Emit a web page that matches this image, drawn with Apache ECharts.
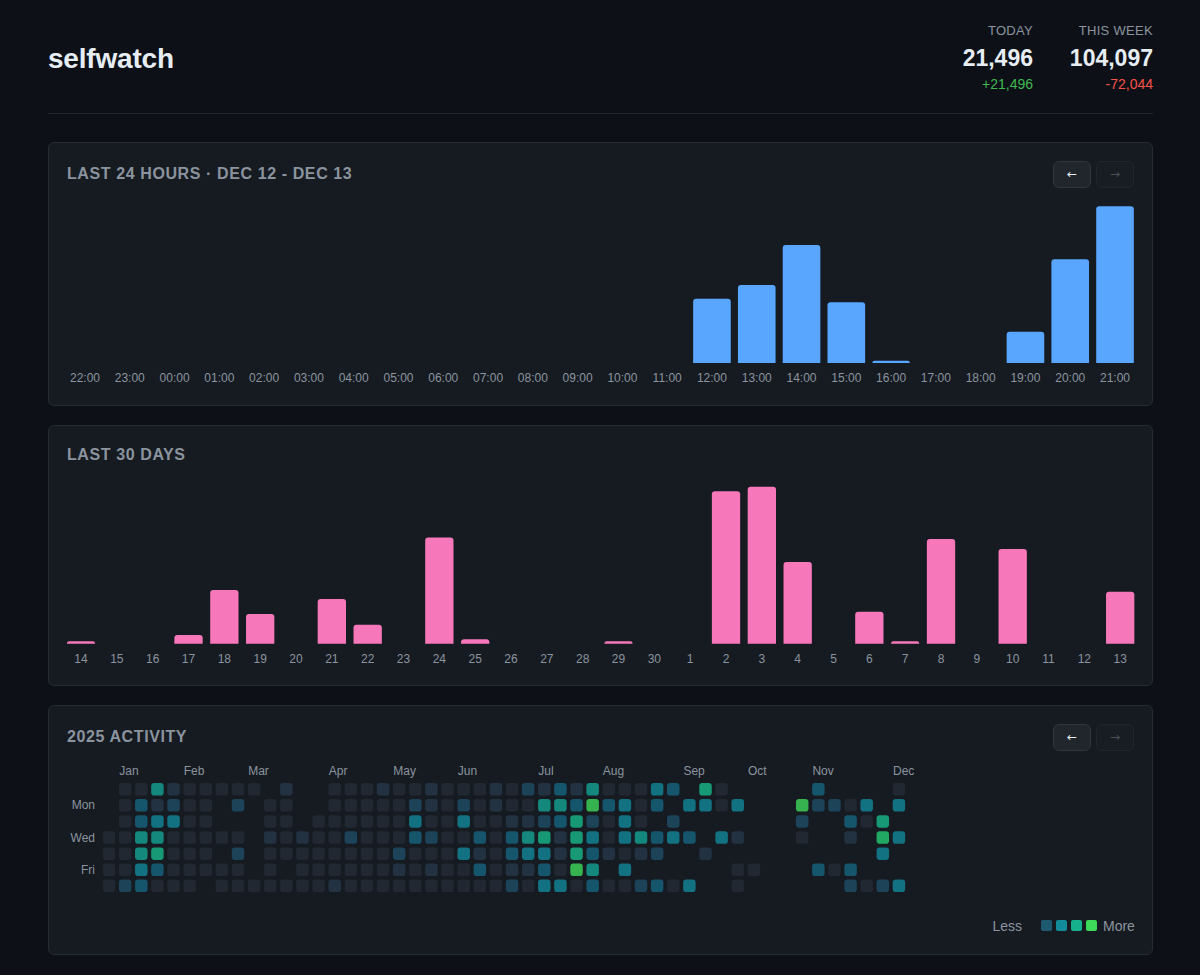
<!DOCTYPE html>
<html>
<head>
<meta charset="utf-8">
<script src="https://cdn.jsdelivr.net/npm/echarts@6/dist/echarts.min.js"></script>
<style>
html,body{margin:0;padding:0;background:#0d1117;width:1200px;height:975px;overflow:hidden;font-family:"Liberation Sans",Arial,Helvetica,sans-serif;}
.abs{position:absolute;white-space:nowrap;}
.card{position:absolute;left:48px;width:1103px;background:#161b22;border:1px solid #262c34;border-radius:6px;}
.title{position:absolute;left:67px;height:20px;line-height:20px;font-size:16px;font-weight:bold;color:#8b949e;letter-spacing:0.6px;white-space:nowrap;}
.btn{position:absolute;width:36px;height:25px;border-radius:6px;font-size:12px;text-align:center;line-height:25px;font-family:"DejaVu Sans",sans-serif;}
.btn.on{left:1053px;background:#21262d;border:1px solid #30363d;color:#e6edf3;}
.btn.off{left:1096px;background:#181d24;border:1px solid #21262d;color:#484f58;}
.chart{position:absolute;left:48px;width:1105px;}
.lbl{font-size:13px;color:#8b949e;letter-spacing:0.3px;height:16px;line-height:16px;}
.val{font-size:23px;font-weight:bold;color:#e6edf3;height:28px;line-height:28px;}
.dlt{font-size:14px;height:18px;line-height:18px;}
.sq{position:absolute;top:920px;width:11px;height:11px;border-radius:2px;}
</style>
</head>
<body>
<script>
// ---------- DATA ----------
const hourLabels = ['22:00','23:00','00:00','01:00','02:00','03:00','04:00','05:00','06:00','07:00','08:00','09:00','10:00','11:00','12:00','13:00','14:00','15:00','16:00','17:00','18:00','19:00','20:00','21:00'];
const hourValues = [0,0,0,0,0,0,0,0,0,0,0,0,0,0,2247,2726,4124,2121,80,0,0,1094,3624,5480];

const dayLabels = ['14','15','16','17','18','19','20','21','22','23','24','25','26','27','28','29','30','1','2','3','4','5','6','7','8','9','10','11','12','13'];
const dayValues = [1000,0,0,3630,22270,12260,0,18510,7800,0,43950,1830,0,0,0,1000,0,0,63130,65011,33780,0,13220,1000,43400,0,39201,0,0,21496];

const weekdayLabels = ['Sun','Mon','Tue','Wed','Thu','Fri','Sat'];
const monthLabels = ['Jan','Feb','Mar','Apr','May','Jun','Jul','Aug','Sep','Oct','Nov','Dec'];
// activity level per day, one string per weekday row (Sun..Sat), one char per week column of 2025
// '.' = no data, '0'..'8' = intensity level
const activityRows = [
  '.005100000.1..0001001000102131500043.60.....3....0',
  '.031200.2.00..000002102010055383403.4404...82204.4',
  '.034400...00.000000400400112362040.2.......2..306.',
  '005500000.101002000320030356164045343.41...0..1.74',
  '0056000.2.0000000020004103441631012..1..........4.',
  '004300000.0.0000001010030113085.4......00...303...',
  '023000.000000010000000000204403002304..0......2024'
];
const activityYear = 2025;
</script>

<div class="abs" style="left:48px;top:42px;height:34px;line-height:34px;font-size:28px;font-weight:bold;color:#e6edf3;letter-spacing:-0.2px;">selfwatch</div>

<div class="abs lbl" style="right:167px;top:23px;">TODAY</div>
<div class="abs val" id="todayVal" style="right:167px;top:44px;"></div>
<div class="abs dlt" id="todayDelta" style="right:167px;top:75px;"></div>
<div class="abs lbl" style="right:47px;top:23px;">THIS WEEK</div>
<div class="abs val" id="weekVal" style="right:47px;top:44px;"></div>
<div class="abs dlt" id="weekDelta" style="right:47px;top:75px;"></div>

<div class="abs" style="left:48px;top:113px;width:1105px;height:1px;background:#21262d;"></div>

<div class="card" style="top:142px;height:262px;"></div>
<div class="card" style="top:425px;height:259px;"></div>
<div class="card" style="top:705px;height:248px;"></div>

<div class="title" style="top:164px;">LAST 24 HOURS · DEC 12 - DEC 13</div>
<div class="btn on" style="top:161px;">←</div>
<div class="btn off" style="top:161px;">→</div>

<div class="title" style="top:445px;">LAST 30 DAYS</div>

<div class="title" style="top:727px;">2025 ACTIVITY</div>
<div class="btn on" style="top:724px;">←</div>
<div class="btn off" style="top:724px;">→</div>

<div id="c1" class="chart" style="top:142px;height:264px;"></div>
<div id="c2" class="chart" style="top:425px;height:261px;"></div>
<div id="c3" class="chart" style="top:705px;height:250px;"></div>

<div class="abs" style="right:178px;top:917px;height:18px;line-height:18px;font-size:14px;color:#8b949e;">Less</div>
<div class="sq" style="left:1041px;background:#1d5a72;"></div>
<div class="sq" style="left:1056px;background:#128c9a;"></div>
<div class="sq" style="left:1071px;background:#17b08c;"></div>
<div class="sq" style="left:1086px;background:#3ed85a;"></div>
<div class="abs" style="left:1103px;top:917px;height:18px;line-height:18px;font-size:14px;color:#8b949e;">More</div>

<script>
const FONT = '"Liberation Sans", Arial, sans-serif';
const AXIS_COLOR = '#8b949e';
const fmt = n => n.toLocaleString('en-US');
const signed = n => (n >= 0 ? '+' : '-') + fmt(Math.abs(n));

// header stats derived from the daily series
const nDays = dayValues.length;
const today = dayValues[nDays - 1];
const yesterday = dayValues[nDays - 2];
const thisWeek = dayValues.slice(nDays - 6).reduce((a, b) => a + b, 0);
const lastWeek = dayValues.slice(nDays - 13, nDays - 6).reduce((a, b) => a + b, 0);
document.getElementById('todayVal').textContent = fmt(today);
document.getElementById('weekVal').textContent = fmt(thisWeek);
const td = document.getElementById('todayDelta');
td.textContent = signed(today - yesterday); td.style.color = (today - yesterday) >= 0 ? '#3fb950' : '#f85149';
const wd = document.getElementById('weekDelta');
wd.textContent = signed(thisWeek - lastWeek); wd.style.color = (thisWeek - lastWeek) >= 0 ? '#3fb950' : '#f85149';

function barOption(labels, values, color, grid, gap) {
  return {
    animation: false,
    textStyle: { fontFamily: FONT },
    grid: grid,
    xAxis: {
      type: 'category', data: labels,
      axisLine: { show: false }, axisTick: { show: false },
      axisLabel: { color: AXIS_COLOR, fontSize: 12, margin: 9, interval: 0, fontFamily: FONT }
    },
    yAxis: { type: 'value', show: false, min: 0, max: 'dataMax', splitLine: { show: false } },
    series: [{
      type: 'bar', data: values, barCategoryGap: gap,
      itemStyle: { color: color, borderRadius: [3, 3, 0, 0] }
    }]
  };
}

const c1 = echarts.init(document.getElementById('c1'), null, { renderer: 'svg' });
c1.setOption(barOption(hourLabels, hourValues, '#58a6ff',
  { left: 14.6, top: 64.3, width: 1074.8, height: 156.7 }, '16%'));

const c2 = echarts.init(document.getElementById('c2'), null, { renderer: 'svg' });
c2.setOption(barOption(dayLabels, dayValues, '#f778ba',
  { left: 15.1, top: 61.7, width: 1075, height: 157 }, '21%'));

// ---------- activity heatmap ----------
const cellColors = ['#262c36', '#27384b', '#1f4d68', '#176581', '#13889a', '#15a496', '#19b98c', '#24cc74', '#3ed85a'];
const jan1Dow = new Date(activityYear, 0, 1).getDay();
function weekCol(date) {
  const doy = Math.round((date - new Date(activityYear, 0, 1)) / 86400000);
  return Math.floor((doy + jan1Dow) / 7);
}
const monthCol = {};
const monthTickValues = [];
monthLabels.forEach((m, i) => {
  const d = new Date(activityYear, i, 1);
  while (d.getDay() !== 0) d.setDate(d.getDate() + 1);
  const col = weekCol(d);
  monthCol[col] = m;
  monthTickValues.push(col - 0.37);
});
const cells = [];
activityRows.forEach((row, r) => {
  for (let c = 0; c < row.length; c++) {
    const ch = row[c];
    if (ch !== '.') cells.push([c, r, +ch]);
  }
});
const nWeeks = activityRows[0].length;

const c3 = echarts.init(document.getElementById('c3'), null, { renderer: 'svg' });
c3.setOption({
  animation: false,
  textStyle: { fontFamily: FONT },
  grid: { left: 53, top: 76.2, width: 806, height: 112.7 },
  xAxis: {
    type: 'value', min: -0.5, max: nWeeks - 0.5, position: 'top',
    axisLine: { show: false }, axisTick: { show: false }, splitLine: { show: false },
    axisLabel: {
      customValues: monthTickValues, align: 'left', margin: 4,
      color: AXIS_COLOR, fontSize: 12, fontFamily: FONT,
      formatter: v => monthCol[Math.round(v + 0.37)] || ''
    }
  },
  yAxis: {
    type: 'category', data: weekdayLabels, inverse: true,
    axisLine: { show: false }, axisTick: { show: false }, splitLine: { show: false },
    axisLabel: { interval: 0, margin: 6, color: AXIS_COLOR, fontSize: 12, fontFamily: FONT,
      formatter: (v, i) => (i % 2 === 1 ? v : '') }
  },
  series: [{
    type: 'scatter', data: cells, symbol: 'roundRect', symbolSize: 12.5, silent: true,
    itemStyle: { color: p => cellColors[p.value[2]] }
  }]
});
</script>
</body>
</html>
